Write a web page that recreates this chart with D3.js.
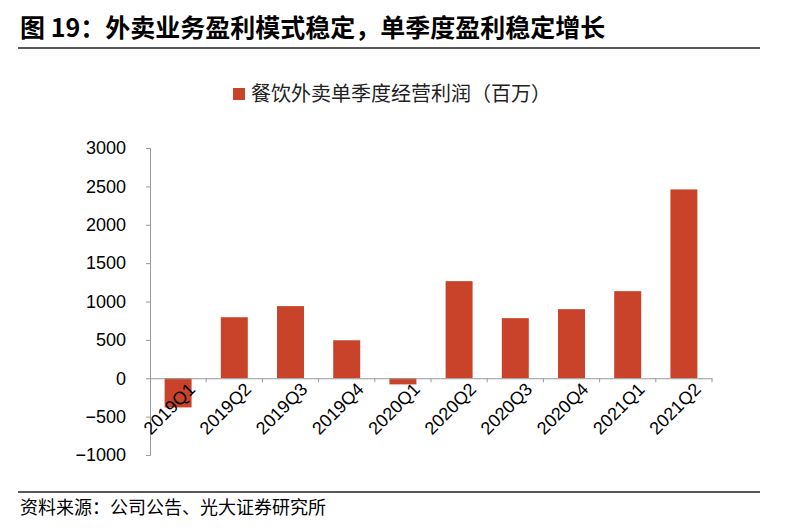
<!DOCTYPE html>
<html><head><meta charset="utf-8">
<script src="https://cdn.jsdelivr.net/npm/d3@7"></script>
<style>body{margin:0;background:#fff;font-family:"Noto Sans CJK SC","Liberation Sans",sans-serif;}</style>
</head><body><div class="canva"></div>
<script>
const categories = ['2019Q1','2019Q2','2019Q3','2019Q4','2020Q1','2020Q2','2020Q3','2020Q4','2021Q1','2021Q2'];
const profit = [-380, 795, 940, 495, -80, 1265, 783, 900, 1135, 2460];
const yTicks = [-1000, -500, 0, 500, 1000, 1500, 2000, 2500, 3000];

const svg = d3.select('.canva').append('svg')
    .attr('width', 788)
    .attr('height', 529);

svg.append('text')
    .attr('x', 20).attr('y', 37)
    .attr('font-size', 25).attr('font-weight', 'bold').attr('fill', '#000')
    .text('图 19：外卖业务盈利模式稳定，单季度盈利稳定增长');
svg.append('line').attr('x1', 18).attr('x2', 760).attr('y1', 48).attr('y2', 48)
    .attr('stroke', '#222').attr('stroke-width', 1.5);
svg.append('line').attr('x1', 18).attr('x2', 760).attr('y1', 492).attr('y2', 492)
    .attr('stroke', '#222').attr('stroke-width', 1.5);
svg.append('text')
    .attr('x', 20).attr('y', 514)
    .attr('font-size', 18).attr('fill', '#000')
    .text('资料来源：公司公告、光大证券研究所');

// legend
svg.append('rect').attr('x', 233).attr('y', 88).attr('width', 12).attr('height', 12).attr('fill', '#C9432A');
svg.append('text').attr('x', 251).attr('y', 101).attr('font-size', 20).attr('fill', '#222')
    .text('餐饮外卖单季度经营利润（百万）');

const x = d3.scaleBand().domain(categories).range([150, 712]).paddingInner(0.52).paddingOuter(0.26);
const y = d3.scaleLinear().domain([-1000, 3000]).range([455, 148]);

svg.selectAll('rect.bar').data(profit).enter().append('rect')
    .attr('class', 'bar')
    .attr('x', (d, i) => x(categories[i]))
    .attr('width', x.bandwidth())
    .attr('y', d => y(Math.max(0, d)))
    .attr('height', d => Math.abs(y(d) - y(0)))
    .attr('fill', '#C9432A');

const yAxis = svg.append('g').attr('transform', 'translate(150,0)')
    .call(d3.axisLeft(y).tickValues(yTicks).tickSize(4).tickFormat(d3.format('d')));
yAxis.selectAll('text').attr('font-size', 18).attr('fill', '#000')
    .attr('font-family', '"Liberation Sans",sans-serif').attr('x', -24);
yAxis.selectAll('line, path').attr('stroke', '#999');

const band = d3.scaleBand().domain(categories).range([150, 712]);
const xAxis = svg.append('g').attr('transform', `translate(0,${y(0)})`)
    .call(d3.axisBottom(band).tickSize(0).tickSizeOuter(0));
xAxis.select('path').attr('stroke', '#999');
xAxis.selectAll('text')
    .attr('font-size', 18).attr('fill', '#000')
    .attr('font-family', '"Liberation Sans",sans-serif')
    .attr('text-anchor', 'end')
    .attr('dy', 0)
    .attr('transform', 'translate(16,10) rotate(-45)');
// category separator ticks
svg.selectAll('line.sep').data(categories.slice(1).concat(['end'])).enter().append('line')
    .attr('x1', (d, i) => 150 + band.step() * (i + 1))
    .attr('x2', (d, i) => 150 + band.step() * (i + 1))
    .attr('y1', y(0)).attr('y2', y(0) + 4).attr('stroke', '#999');
</script></body></html>
